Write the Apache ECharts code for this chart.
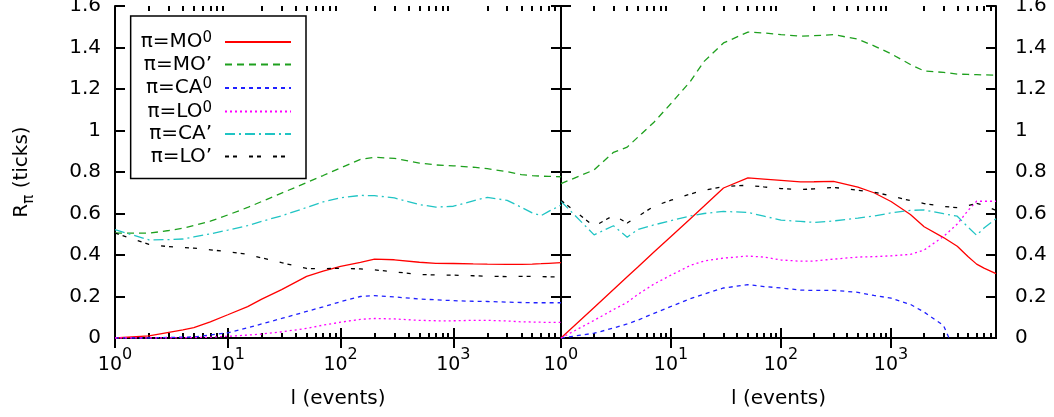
<!DOCTYPE html>
<html><head><meta charset="utf-8">
<script src="https://cdn.jsdelivr.net/npm/echarts@6/dist/echarts.min.js"></script>
<style>html,body{margin:0;padding:0;background:#fff}#c{width:1054px;height:417px}</style>
</head><body><div id="c"></div>
<script>
// x values (l, events), shared by all curves
const lValues = [1,2,3,4,5,7,10,15,20,30,50,70,100,150,200,300,500,700,1000,1500,2000,3000,4000,5000,6000,7000,9000];

// left panel
const leftMO0 = [0,0.010,0.027,0.039,0.05,0.078,0.112,0.151,0.187,0.233,0.297,0.322,0.345,0.365,0.38,0.377,0.365,0.36,0.359,0.357,0.356,0.355,0.355,0.356,0.358,0.36,0.363];
const leftMO1 = [0.506,0.505,0.518,0.529,0.542,0.563,0.593,0.629,0.658,0.698,0.749,0.783,0.82,0.861,0.871,0.866,0.843,0.834,0.83,0.823,0.816,0.802,0.787,0.783,0.78,0.779,0.777];
const leftCA0 = [0,0,0.003,0.004,0.005,0.015,0.025,0.049,0.068,0.094,0.128,0.15,0.175,0.2,0.204,0.198,0.188,0.184,0.18,0.177,0.176,0.173,0.171,0.17,0.17,0.17,0.17];
const leftLO0 = [0,0,0,0.001,0.002,0.004,0.008,0.014,0.019,0.03,0.046,0.062,0.076,0.09,0.094,0.092,0.085,0.083,0.083,0.085,0.085,0.082,0.078,0.077,0.076,0.075,0.075];
const leftCA1 = [0.522,0.473,0.474,0.477,0.487,0.502,0.52,0.542,0.562,0.589,0.629,0.656,0.676,0.687,0.686,0.675,0.643,0.631,0.635,0.661,0.678,0.663,0.63,0.603,0.59,0.61,0.64];
const leftLO1 = [0.506,0.451,0.44,0.436,0.433,0.425,0.416,0.403,0.386,0.363,0.335,0.334,0.336,0.333,0.328,0.319,0.306,0.304,0.303,0.3,0.298,0.296,0.297,0.297,0.296,0.295,0.295];

// right panel
const rightMO0 = [0,0.147,0.234,0.295,0.342,0.414,0.489,0.575,0.636,0.723,0.772,0.766,0.76,0.752,0.753,0.755,0.727,0.70,0.658,0.595,0.536,0.484,0.442,0.393,0.356,0.337,0.31];
const rightMO1 = [0.744,0.81,0.895,0.92,0.968,1.04,1.13,1.237,1.333,1.422,1.474,1.47,1.462,1.455,1.457,1.462,1.44,1.408,1.37,1.318,1.287,1.28,1.272,1.27,1.269,1.268,1.266];
const rightCA0 = [0,0.023,0.048,0.068,0.086,0.119,0.152,0.19,0.212,0.241,0.257,0.248,0.241,0.231,0.229,0.23,0.22,0.205,0.192,0.162,0.125,0.06,-0.09,null,null,null,null];
const rightLO0 = [0,0.085,0.137,0.172,0.21,0.26,0.303,0.35,0.371,0.385,0.395,0.39,0.376,0.37,0.371,0.38,0.39,0.392,0.396,0.403,0.424,0.489,0.549,0.614,0.659,0.659,0.659];
const rightCA1 = [0.659,0.497,0.541,0.486,0.523,0.545,0.566,0.588,0.6,0.61,0.605,0.587,0.568,0.562,0.557,0.564,0.578,0.588,0.603,0.615,0.617,0.599,0.587,0.535,0.495,0.53,0.575];
const rightLO1 = [0.664,0.538,0.591,0.554,0.586,0.635,0.664,0.694,0.712,0.73,0.736,0.728,0.72,0.715,0.719,0.726,0.712,0.703,0.685,0.662,0.648,0.634,0.628,0.638,0.649,0.64,0.615];

// axes
const xMajorTicks = [1, 10, 100, 1000];
const xMinorTicks = [2,3,4,5,6,7,8,9,20,30,40,50,60,70,80,90,200,300,400,500,600,700,800,900,2000,3000,4000,5000,6000,7000,8000];
const xMin = 1, xMax = 9000;
const yMin = 0, yMax = 1.6, yStep = 0.2;

const seriesNames = ['π=MO0', 'π=MO’', 'π=CA0', 'π=LO0', 'π=CA’', 'π=LO’'];
const seriesColors = ['#ff0000', '#1ea01e', '#2020ff', '#ff00ff', '#20c4c4', '#000000'];
const seriesDash = ['solid', [7,5], [4,4], [2,3], [10,4,2,4], [4,4,4,12]];

const FONT = 'DejaVu Sans';
const black = '#000';
const axisLS = { color: black, width: 2 };

function xLabelFmt(v) {
  const e = Math.round(Math.log(v) / Math.LN10);
  return '{b|10}{s|' + e + '}';
}
const xRich = {
  b: { fontSize: 19, fontFamily: FONT, color: black, lineHeight: 36 },
  s: { fontSize: 16, fontFamily: FONT, color: black, lineHeight: 20, verticalAlign: 'top' }
};

function xAxisMain(grid, pos, withLabels) {
  return {
    type: 'log', logBase: 10, min: xMin, max: xMax, gridIndex: grid, position: pos,
    axisLine: { show: true, lineStyle: axisLS },
    axisTick: { show: true, inside: true, length: 10, customValues: xMajorTicks, lineStyle: axisLS },
    axisLabel: withLabels ? { show: true, customValues: xMajorTicks, formatter: xLabelFmt, rich: xRich, margin: 9, hideOverlap: false } : { show: false },
    splitLine: { show: false }, minorTick: { show: false },
    name: withLabels ? 'l (events)' : '', nameLocation: 'middle', nameGap: 51,
    nameTextStyle: { fontSize: 20, fontFamily: FONT, color: black }
  };
}
function xAxisMinor(grid, pos) {
  return {
    type: 'log', logBase: 10, min: xMin, max: xMax, gridIndex: grid, position: pos,
    axisLine: { show: false },
    axisTick: { show: true, inside: true, length: 5, customValues: xMinorTicks, lineStyle: axisLS },
    axisLabel: { show: false }, splitLine: { show: false }
  };
}
function yAxisMain(grid, pos, withLabels, margin, name) {
  const ax = {
    type: 'value', min: yMin, max: yMax, interval: yStep, gridIndex: grid, position: pos,
    axisLine: { show: true, lineStyle: axisLS },
    axisTick: { show: true, inside: true, length: 10, lineStyle: axisLS },
    axisLabel: withLabels ? { show: true, fontSize: 20, fontFamily: FONT, color: black, margin: margin, hideOverlap: false } : { show: false },
    splitLine: { show: false }
  };
  if (name) {
    ax.name = name; ax.nameLocation = 'middle'; ax.nameGap = 78;
    ax.nameTextStyle = { fontSize: 20, fontFamily: FONT, color: black, lineHeight: 30,
      rich: { sub: { fontSize: 15, fontFamily: FONT, color: black, lineHeight: 15, verticalAlign: 'bottom' } } };
  }
  return ax;
}

function mkSeries(name, vals, xi, yi, k) {
  const data = [];
  lValues.forEach((l, i) => { if (vals[i] !== null) data.push([l, vals[i]]); });
  return {
    type: 'line', name: name, data: data, xAxisIndex: xi, yAxisIndex: yi,
    symbol: 'none', showSymbol: false, clip: true, silent: true,
    lineStyle: { color: seriesColors[k], type: seriesDash[k], width: 1.3 },
    itemStyle: { color: seriesColors[k] },
    emphasis: { disabled: true }
  };
}

const leftSets = [leftMO0, leftMO1, leftCA0, leftLO0, leftCA1, leftLO1];
const rightSets = [rightMO0, rightMO1, rightCA0, rightLO0, rightCA1, rightLO1];
const series = [];
leftSets.forEach((v, k) => series.push(mkSeries(seriesNames[k], v, 0, 0, k)));
rightSets.forEach((v, k) => series.push(mkSeries(seriesNames[k], v, 4, 3, k)));

const gridL = { left: 115, right: 493, top: 6, bottom: 79, outerBoundsMode: 'none', containLabel: false };
const gridR = { left: 561, right: 58, top: 6, bottom: 79, outerBoundsMode: 'none', containLabel: false };

const option = {
  animation: false,
  backgroundColor: '#fff',
  textStyle: { fontFamily: FONT },
  grid: [gridL, Object.assign({}, gridL), gridR, Object.assign({}, gridR)],
  xAxis: [
    xAxisMain(0, 'bottom', true), xAxisMain(0, 'top', false),
    xAxisMinor(1, 'bottom'), xAxisMinor(1, 'top'),
    xAxisMain(2, 'bottom', true), xAxisMain(2, 'top', false),
    xAxisMinor(3, 'bottom'), xAxisMinor(3, 'top')
  ],
  yAxis: [
    yAxisMain(0, 'left', true, 14, 'R{sub|π} (ticks)'),
    yAxisMain(0, 'right', false),
    { type: 'value', min: yMin, max: yMax, gridIndex: 1, show: false },
    yAxisMain(2, 'left', false),
    yAxisMain(2, 'right', true, 19),
    { type: 'value', min: yMin, max: yMax, gridIndex: 3, show: false }
  ],
  legend: {
    data: seriesNames,
    orient: 'vertical', align: 'right',
    right: 748, top: 16,
    itemWidth: 66, itemHeight: 23, itemGap: 2.5,
    padding: [15, 14, 12, 10],
    borderColor: black, borderWidth: 1.5,
    selectedMode: false,
    itemStyle: { opacity: 0, color: 'transparent', borderWidth: 0 },
    formatter: function (name) {
      if (name.slice(-1) === '0') return '{t|' + name.slice(0, -1) + '}{s|0}{g|}';
      return '{t|' + name + '}{g|}';
    },
    textStyle: {
      rich: {
        t: { fontSize: 20, fontFamily: FONT, color: black, lineHeight: 22 },
        s: { fontSize: 15, fontFamily: FONT, color: black, lineHeight: 4, verticalAlign: 'top' },
        g: { width: 8 }
      }
    }
  },
  series: series
};

const chart = echarts.init(document.getElementById('c'), null, { renderer: 'canvas' });
chart.setOption(option);
</script>
</body></html>
